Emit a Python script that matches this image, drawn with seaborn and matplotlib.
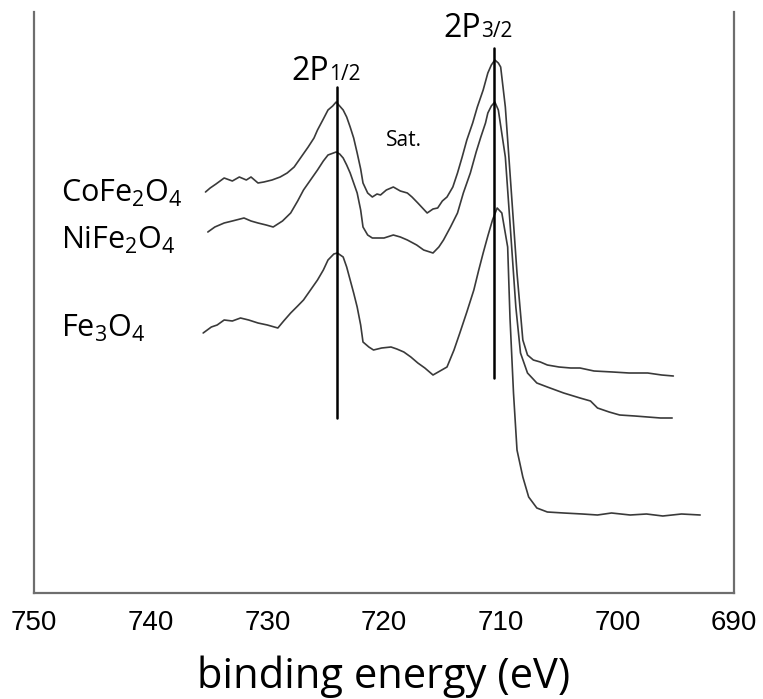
import matplotlib
matplotlib.use("Agg")
import matplotlib.pyplot as plt
import numpy as np
import pandas as pd
import seaborn as sns

# binding energy (eV) and intensity (arb. units)
co_energy = [735.3, 734.9, 734.4, 733.7, 733.0, 732.4, 731.8, 731.4, 730.8, 730.3,
             729.6, 728.9, 728.3, 727.7, 727.1, 726.5, 726.0, 725.7, 725.2, 724.8,
             724.4, 724.1, 723.8, 723.5, 723.2, 722.9, 722.6, 722.3, 722.0, 721.8,
             721.4, 721.0, 720.6, 720.3, 719.8, 719.2, 718.6, 718.0, 717.6, 717.1,
             716.7, 716.3, 715.8, 715.4, 715.0, 714.6, 714.1, 713.7, 713.3, 712.9,
             712.4, 712.0, 711.5, 711.1, 710.8, 710.5, 710.2, 710.0, 709.6, 709.2,
             708.6, 708.1, 707.7, 707.2, 706.6, 706.0, 705.0, 704.0, 703.2, 702.0,
             700.4, 699.0, 697.4, 696.2, 695.2]
co_int = [401, 405, 409, 415, 412, 416, 413, 416, 410, 411,
          413, 416, 420, 426, 436, 446, 455, 463, 474, 483,
          487, 491, 487, 483, 476, 466, 455, 440, 424, 410,
          400, 396, 399, 398, 403, 406, 402, 400, 396, 390,
          385, 380, 384, 385, 392, 396, 406, 420, 436, 453,
          470, 486, 503, 520, 528, 533, 530, 526, 486, 420,
          320, 253, 238, 233, 231, 228, 226, 225, 225, 222,
          221, 220, 220, 218, 217]

ni_energy = [735.1, 734.5, 733.7, 733.0, 732.0, 731.4, 730.8, 730.1, 729.5, 728.7,
             728.0, 727.4, 726.9, 726.3, 725.7, 725.2, 724.8, 724.1, 723.8, 723.5,
             723.2, 722.9, 722.6, 722.3, 722.0, 721.8, 721.4, 721.0, 720.0, 719.2,
             718.6, 718.0, 717.2, 716.6, 715.8, 715.3, 714.9, 714.3, 713.7, 713.2,
             712.6, 712.1, 711.7, 711.3, 711.1, 710.8, 710.5, 710.2, 709.6, 709.2,
             708.7, 708.3, 707.7, 706.9, 706.0, 704.6, 703.2, 702.3, 701.7, 700.7,
             699.8, 698.5, 697.4, 696.3, 695.3]
ni_int = [361, 366, 370, 372, 375, 372, 370, 368, 366, 372,
          380, 392, 403, 413, 423, 432, 438, 441, 439, 435,
          428, 420, 410, 400, 383, 366, 358, 355, 355, 358,
          356, 353, 348, 343, 340, 346, 353, 366, 380, 400,
          420, 441, 456, 470, 480, 487, 491, 483, 436, 370,
          286, 240, 220, 210, 206, 200, 195, 192, 185, 181,
          178, 177, 176, 175, 175]

fe_energy = [735.5, 734.8, 734.3, 733.7, 733.0, 732.3, 731.6, 730.8, 730.0, 729.1,
             728.6, 728.0, 727.4, 726.9, 726.3, 725.7, 725.2, 724.8, 724.3, 724.0,
             723.5, 723.2, 722.9, 722.6, 722.3, 722.0, 721.8, 721.3, 720.9, 720.2,
             719.4, 718.9, 718.3, 717.7, 717.1, 716.5, 715.8, 715.2, 714.6, 714.0,
             713.5, 712.9, 712.3, 711.9, 711.5, 711.1, 710.7, 710.3, 709.9, 709.4,
             709.2, 708.9, 708.6, 708.1, 707.6, 706.9, 706.0, 704.6, 703.0, 701.7,
             700.5, 698.9, 697.5, 696.1, 694.5, 692.9]
fe_int = [260, 266, 268, 273, 272, 275, 273, 270, 268, 265,
          272, 280, 287, 293, 303, 313, 323, 333, 339, 340,
          336, 326, 313, 300, 286, 268, 251, 246, 243, 245,
          246, 244, 241, 236, 230, 225, 218, 222, 226, 243,
          260, 281, 303, 322, 340, 357, 373, 385, 380, 346,
          275, 200, 143, 116, 96, 85, 81, 80, 79, 78,
          80, 78, 79, 77, 79, 78]

sample_names = ["CoFe$_2$O$_4$", "NiFe$_2$O$_4$", "Fe$_3$O$_4$"]
peak_energy = [724.0, 710.6]
peak_span = [(175, 506), (215, 545)]

sns.set_style("white")
plt.rcParams["font.family"] = ["Open Sans", "DejaVu Sans"]
plt.rcParams["mathtext.fontset"] = "custom"
plt.rcParams["mathtext.rm"] = "Open Sans"
plt.rcParams["mathtext.it"] = "Open Sans"
plt.rcParams["text.color"] = "black"
plt.rcParams["axes.labelcolor"] = "black"
plt.rcParams["xtick.labelcolor"] = "black"

fig = plt.figure(figsize=(7.63, 6.99), dpi=100)
ax = fig.add_axes([34 / 763, 1 - 593 / 699, 700 / 763, 581 / 699])

curve_color = "#3a3a3a"
for e, i in [(co_energy, co_int), (ni_energy, ni_int), (fe_energy, fe_int)]:
    df = pd.DataFrame({"energy": e, "intensity": i})
    sns.lineplot(data=df, x="energy", y="intensity", ax=ax, color=curve_color,
                 linewidth=1.2, estimator=None, sort=False)

for e, (lo, hi) in zip(peak_energy, peak_span):
    ax.plot([e, e], [lo, hi], color="black", linewidth=1.8)

ax.set_xlim(750, 690)
ax.set_ylim(0, 581)
ax.set_xticks([750, 740, 730, 720, 710, 700, 690])
ax.set_yticks([])
ax.set_ylabel("")
ax.set_xlabel("binding energy (eV)", fontsize=30, labelpad=14, color="black")
ax.tick_params(axis="x", direction="in", length=3, width=1, color="#777777",
               pad=12, labelsize=20, labelcolor="black")
for lab in ax.get_xticklabels():
    lab.set_fontfamily(["Liberation Sans", "DejaVu Sans"])

ax.spines["top"].set_visible(False)
for side in ["left", "right", "bottom"]:
    ax.spines[side].set_color("#6e6e6e")
    ax.spines[side].set_linewidth(1.6)

# sample labels
label_y = [391, 344, 256]
for name, y in zip(sample_names, label_y):
    ax.text(747.7, y, name, fontsize=22, ha="left", va="baseline", color="black")

# peak labels
ax.text(724.7, 513, "2P", fontsize=23, ha="right", va="baseline", color="black")
ax.text(724.7, 513, "1/2", fontsize=15, ha="left", va="baseline", color="black")
ax.text(711.65, 556, "2P", fontsize=23, ha="right", va="baseline", color="black")
ax.text(711.65, 556, "3/2", fontsize=15, ha="left", va="baseline", color="black")
ax.text(718.3, 452, "Sat.", fontsize=15, ha="center", va="center", color="black")

fig.savefig("out.png", dpi=100)
